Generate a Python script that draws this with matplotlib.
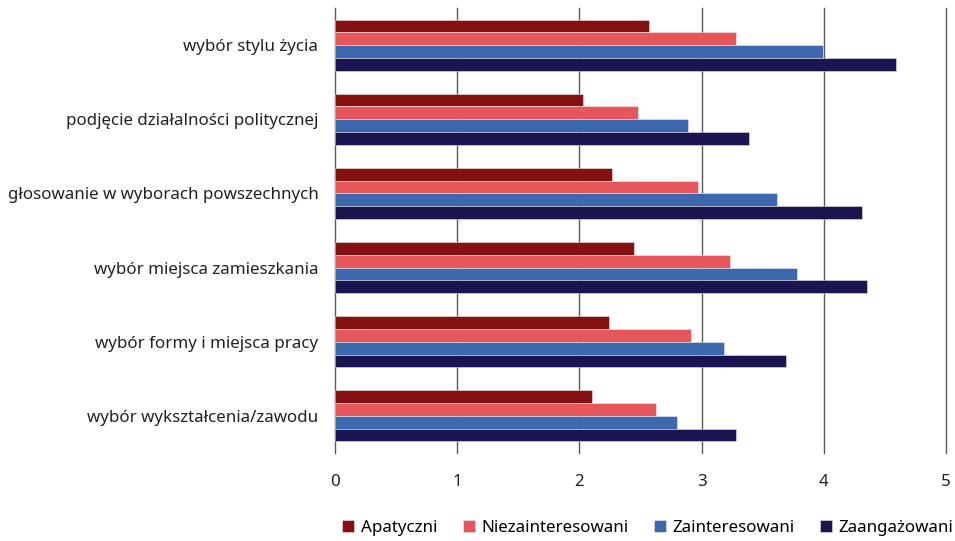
import numpy as np
import matplotlib.pyplot as plt

plt.rcParams['font.family'] = ['Noto Sans', 'DejaVu Sans']

categories = [
    'wybór stylu życia',
    'podjęcie działalności politycznej',
    'głosowanie w wyborach powszechnych',
    'wybór miejsca zamieszkania',
    'wybór formy i miejsca pracy',
    'wybór wykształcenia/zawodu',
]
series = ['Apatyczni', 'Niezainteresowani', 'Zainteresowani', 'Zaangażowani']
apatyczni = [2.57, 2.03, 2.27, 2.45, 2.24, 2.10]
niezainteresowani = [3.28, 2.48, 2.97, 3.23, 2.91, 2.63]
zainteresowani = [3.99, 2.89, 3.62, 3.78, 3.18, 2.80]
zaangazowani = [4.59, 3.39, 4.31, 4.35, 3.69, 3.28]
colors = ['#841012', '#e5575a', '#3d68ae', '#1a1450']

values = [apatyczni, niezainteresowani, zainteresowani, zaangazowani]

fig = plt.figure(figsize=(9.55, 5.41), dpi=100)
ax = fig.add_axes([335 / 955, 1 - 453 / 541, 611 / 955, 445 / 541])

n = len(categories)
y = np.arange(n)[::-1]  # first category at the top
h = 0.172
for i, (name, vals, c) in enumerate(zip(series, values, colors)):
    offs = (i - 1.5) * h
    ax.barh(y - offs, vals, height=h, color=c, label=name,
            edgecolor=(1, 1, 1, 0.5), linewidth=0.6, zorder=3)

ax.set_xlim(0, 5)
ax.set_ylim(-0.5, n - 0.5)
ax.set_yticks(y)
ax.set_yticklabels(categories, fontsize=12.2, color='#222222')
ax.set_xticks(range(6))
ax.tick_params(axis='x', labelsize=12.2, colors='#222222', length=0, pad=15)
ax.tick_params(axis='y', length=0, pad=12)
# vertical grid, drawn by hand so the line at 5 is not clipped at the edge
for xv in range(1, 6):
    ax.axvline(xv, color='#5a5a5a', linewidth=1.0, zorder=0, clip_on=False)
for s in ['top', 'right', 'bottom']:
    ax.spines[s].set_visible(False)
ax.spines['left'].set_color('#5a5a5a')
ax.spines['left'].set_linewidth(1.0)

fig.legend(loc='center', bbox_to_anchor=(648 / 955, 1 - 528 / 541), ncol=4,
           frameon=False, fontsize=12.2, handlelength=0.7, handleheight=0.7,
           columnspacing=1.5, handletextpad=0.4, borderpad=0, borderaxespad=0)

fig.savefig('out.png', dpi=100)
